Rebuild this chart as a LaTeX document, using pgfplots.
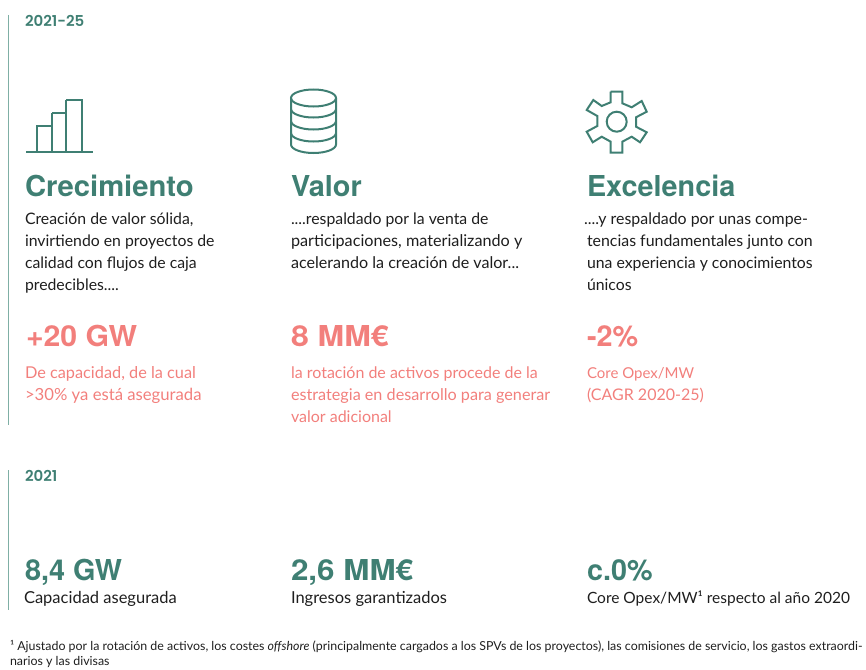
\documentclass[border=0pt]{standalone}
\usepackage{fontspec}
\usepackage{graphicx}
\usepackage{pgfplots}
\pgfplotsset{compat=1.18}
\setmainfont{Lato}
\newfontfamily\head{TeX Gyre Heros}[BoldFont=* Bold]
\newfontfamily\yhead{Poppins SemiBold}
\definecolor{gr}{HTML}{3F7F73}
\definecolor{sal}{HTML}{F27F7C}
\definecolor{txt}{HTML}{1E1E1E}
\definecolor{vl}{HTML}{7FAFA5}
\newcommand\hd[2][28.8]{{\head\bfseries\fontsize{#1}{#1}\selectfont #2}}
\newcommand\hx[2]{\scalebox{#1}[1]{\hd{#2}}}
\newcommand\bd[2][15.8]{{\fontsize{#1}{#1}\selectfont #2}}
\newcommand\ft[1]{{\fontsize{12.4}{13}\selectfont #1}}
\newcommand\yr[1]{{\yhead\fontsize{15}{15}\selectfont #1}}
\begin{document}
\begin{tikzpicture}
\begin{axis}[at={(0,0)},anchor=south west,scale only axis,width=866pt,height=669pt,
 xmin=0,xmax=866,ymin=0,ymax=669,y dir=reverse,hide axis,clip=false]
% rules
\addplot[vl,line width=1pt] coordinates {(8,15) (8,425)};
\addplot[vl,line width=1pt] coordinates {(8,470) (8,610)};
% bar icon
\addplot[gr,line width=2pt] coordinates {(26,152) (93,152)};
\addplot[gr,line width=2pt] coordinates {(37,152) (37,126) (52,126) (52,152)};
\addplot[gr,line width=2pt] coordinates {(52,113) (66,113) (66,152)};
\addplot[gr,line width=2pt] coordinates {(52,126) (52,113)};
\addplot[gr,line width=2pt] coordinates {(66,100) (82,100) (82,152)};
\addplot[gr,line width=2pt] coordinates {(66,113) (66,100)};
% gear icon
\addplot[gr,line width=2pt] coordinates {(610.7,91.7) (622.3,91.7) (622.3,103.3) (631.7,107.3) (641.7,101) (646.7,111.7) (636,117.3) (636,126.7) (646.7,132.3) (640,142.3) (631.7,136.7) (622.3,141.7) (622.3,152.7) (610.7,152.7) (610.7,141.7) (601.7,136.7) (592.7,142.3) (586.7,131.7) (597.3,126) (597.3,116) (586.7,110) (593.3,100) (601.7,106) (610.7,102.3) (610.7,91.7)};
\draw[gr,line width=2pt] (axis cs:616.7,121.7) circle [radius=10pt];
% database icon
\draw[gr,line width=2pt] (axis cs:313.5,98) ellipse [x radius=22.5pt,y radius=8.5pt];
\draw[gr,line width=2pt] (axis cs:291,98) -- (axis cs:291,144.5) arc[start angle=180,end angle=360,x radius=22.5pt,y radius=8.5pt] -- (axis cs:336,98);
\foreach \yy in {109,121,133}{
 \edef\tmp{\noexpand\draw[gr,line width=2pt] (axis cs:291,\yy) arc[start angle=180,end angle=360,x radius=22.5pt,y radius=8.5pt];}\tmp
}
\tikzset{t/.style={anchor=base west,inner sep=0pt,outer sep=0pt}}
\node[t,gr] at (axis cs:25,27) {\yr{2021-25}};
\node[t,gr] at (axis cs:25,196) {\hx{1.015}{Crecimiento}};
\node[t,gr] at (axis cs:291,196) {\hd{Valor}};
\node[t,gr] at (axis cs:587,196) {\hd{Excelencia}};
% body col 1
\node[t,txt] at (axis cs:25,224) {\bd{Creación de valor sólida,}};
\node[t,txt] at (axis cs:25,246) {\bd{invirtiendo en proyectos de}};
\node[t,txt] at (axis cs:25,268) {\bd{calidad con flujos de caja}};
\node[t,txt] at (axis cs:25,290) {\bd{predecibles....}};
% body col 2
\node[t,txt] at (axis cs:291,224) {\bd{....respaldado por la venta de}};
\node[t,txt] at (axis cs:291,246) {\bd[16.2]{participaciones, materializando y}};
\node[t,txt] at (axis cs:291,268) {\bd[16.1]{acelerando la creación de valor...}};
% body col 3
\node[t,txt] at (axis cs:584,224) {\bd[15.9]{....y respaldado por unas compe-}};
\node[t,txt] at (axis cs:587,246) {\bd[15.9]{tencias fundamentales junto con}};
\node[t,txt] at (axis cs:587,268) {\bd{una experiencia y conocimientos}};
\node[t,txt] at (axis cs:587,290) {\bd{únicos}};
% big salmon
\node[t,sal] at (axis cs:26,346) {\hx{1.05}{+20 GW}};
\node[t,sal] at (axis cs:291,346) {\hx{1.11}{8 MM€}};
\node[t,sal] at (axis cs:587,346) {\hd{-2\%}};
\node[t,sal] at (axis cs:25,378) {\bd[16.3]{De capacidad, de la cual}};
\node[t,sal] at (axis cs:25,400) {\bd[16.7]{>30\% ya está asegurada}};
\node[t,sal] at (axis cs:291,378) {\bd[16]{la rotación de activos procede de la}};
\node[t,sal] at (axis cs:291,400) {\bd[16.2]{estrategia en desarrollo para generar}};
\node[t,sal] at (axis cs:291,422) {\bd[16]{valor adicional}};
\node[t,sal] at (axis cs:587,378) {\bd[15]{Core Opex/MW}};
\node[t,sal] at (axis cs:587,400) {\bd[16]{(CAGR 2020-25)}};
% 2021
\node[t,gr] at (axis cs:25,481) {\yr{2021}};
\node[t,gr] at (axis cs:25,580) {\hd{8,4 GW}};
\node[t,gr] at (axis cs:291,580) {\hx{1.09}{2,6 MM€}};
\node[t,gr] at (axis cs:587,580) {\hd{c.0\%}};
\node[t,txt] at (axis cs:24,603) {\bd[16.5]{Capacidad asegurada}};
\node[t,txt] at (axis cs:291,603) {\bd[16.5]{Ingresos garantizados}};
\node[t,txt] at (axis cs:587,603) {\bd[15.5]{Core Opex/MW¹ respecto al año 2020}};
% footnote
\node[t,txt] at (axis cs:10,650) {\ft{¹ Ajustado por la rotación de activos, los costes \textit{offshore} (principalmente cargados a los SPVs de los proyectos), las comisiones de servicio, los gastos extraordi-}};
\node[t,txt] at (axis cs:10,665) {\ft{narios y las divisas}};
\end{axis}
\path[use as bounding box] (0,0) rectangle (866pt,669pt);
\end{tikzpicture}
\end{document}
